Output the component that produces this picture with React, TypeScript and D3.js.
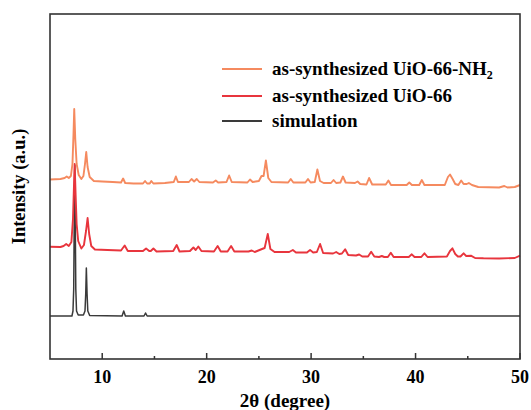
import React from "react";
import { scaleLinear, line } from "d3";

// 2theta (degree) vs intensity (a.u.), curves already stacked
const nh2Pattern: [number, number][] = [
  [5.0, 179.5], [6.0, 180], [6.4, 181], [6.6, 182.5], [6.8, 181], [7.0, 183],
  [7.15, 195], [7.25, 225], [7.32, 250], [7.42, 220], [7.55, 195], [7.75, 184],
  [8.0, 180], [8.2, 183], [8.35, 195], [8.47, 207], [8.6, 192], [8.8, 182],
  [9.2, 178], [10, 177.5], [11, 177], [11.8, 176.5], [12.0, 180.5], [12.2, 176],
  [13, 175.5], [13.9, 175.5], [14.1, 178], [14.3, 175.5], [14.55, 175.5], [14.7, 178],
  [14.9, 175.5], [16, 176], [16.85, 177], [17.05, 182.5], [17.25, 177], [18.3, 177],
  [18.55, 180], [18.8, 177.5], [19.05, 180], [19.3, 177], [20.6, 176.5], [20.87, 178.5],
  [21.1, 176.5], [21.9, 177], [22.15, 183.5], [22.4, 177], [23.9, 176.5], [24.15, 179.5],
  [24.4, 177], [25.0, 178], [25.25, 183], [25.45, 183], [25.67, 198.5], [25.9, 181],
  [26.2, 177], [27.8, 176.5], [28.05, 180], [28.3, 176.5], [29.45, 176.5], [29.7, 180],
  [29.95, 176.5], [30.35, 177], [30.6, 189.5], [30.85, 178], [31.2, 176], [31.9, 176],
  [32.15, 179], [32.4, 176], [32.8, 176.5], [33.05, 182.5], [33.3, 176.5], [34.2, 176],
  [34.45, 177.5], [34.7, 175], [35.3, 174.5], [35.55, 181], [35.85, 174.5], [36.6, 174.5],
  [37.15, 174.5], [37.4, 178.5], [37.65, 174], [39.15, 174], [39.4, 176.5], [39.65, 174],
  [40.35, 174], [40.6, 179], [40.85, 174], [42.8, 174], [43.1, 182], [43.3, 184.5],
  [43.55, 180], [43.8, 175], [44.1, 174], [44.37, 178.5], [44.6, 175], [44.9, 175],
  [45.1, 176], [45.4, 174], [46, 172], [48, 171.5], [48.5, 173], [48.8, 171.5],
  [49.5, 172], [50, 174],
];

const uio66Pattern: [number, number][] = [
  [5.0, 112.3], [6.0, 112], [6.3, 113], [6.55, 115], [6.8, 113], [7.05, 117],
  [7.2, 140], [7.3, 175], [7.36, 195], [7.45, 165], [7.55, 135], [7.7, 118],
  [8.0, 110.5], [8.25, 114], [8.45, 128], [8.6, 141], [8.75, 125], [8.95, 113],
  [9.3, 109.5], [10.5, 109], [11.8, 108.5], [12.15, 113.5], [12.45, 108], [13.9, 108],
  [14.2, 110.5], [14.5, 108], [14.65, 108], [14.9, 110.5], [15.2, 107.5], [16.8, 108],
  [17.13, 114], [17.4, 107.5], [18.4, 108], [18.73, 111.5], [18.95, 109], [19.2, 112.5],
  [19.5, 108], [20.7, 107.5], [21.05, 113], [21.35, 107.5], [22.0, 107.5], [22.34, 113],
  [22.65, 107.5], [24.0, 107.5], [24.32, 108.5], [24.6, 107], [25.3, 110], [25.55, 111],
  [25.85, 125], [26.1, 110], [26.5, 107], [27.9, 107], [28.25, 109], [28.55, 106.5],
  [29.6, 106.5], [29.9, 109], [30.2, 106.5], [30.55, 107], [30.86, 115], [31.15, 106],
  [32.1, 105.5], [32.4, 107], [32.7, 105], [32.95, 105.5], [33.26, 109.7], [33.55, 104],
  [34.3, 103.5], [34.6, 104.5], [34.9, 102.5], [35.45, 102.5], [35.75, 107.3], [36.05, 102.5],
  [36.5, 102], [36.77, 103], [37.0, 102], [37.35, 102], [37.63, 106.3], [37.9, 102],
  [39.35, 102], [39.64, 104.7], [39.9, 102], [40.55, 102], [40.85, 105.7], [41.15, 102],
  [43.0, 102.5], [43.3, 108], [43.53, 110.7], [43.8, 105], [44.05, 102.5], [44.3, 102.5],
  [44.6, 105.7], [44.85, 103], [45.3, 103.3], [45.7, 101], [46.5, 100.7], [48.0, 100.5],
  [49.5, 101], [50.0, 103.3],
];

const simPattern: [number, number][] = [
  [5, 43], [7.1, 43], [7.2, 48], [7.27, 70], [7.33, 150], [7.37, 194], [7.41, 150],
  [7.47, 70], [7.54, 48], [7.7, 44], [8.2, 44], [8.35, 48], [8.42, 65], [8.48, 91],
  [8.55, 65], [8.62, 48], [8.8, 43.5], [11.9, 43], [12.06, 48], [12.22, 43], [14.0, 43],
  [14.15, 46], [14.3, 43], [50, 43],
];

const legendNames = ["as-synthesized UiO-66-NH", "as-synthesized UiO-66", "simulation"];
const lineColors = ["#F58A5F", "#E8353D", "#3A3A3A"];
const xTickValues = [10, 20, 30, 40, 50];
const xMinorValues = [15, 25, 35, 45];

const W = 531;
const H = 410;
const margin = { top: 14, right: 11, bottom: 51, left: 50 };
const FONT = "Liberation Serif";

export default function App() {
  const xScale = scaleLinear().domain([5, 50]).range([margin.left, W - margin.right]);
  const yScale = scaleLinear().domain([0, 345]).range([H - margin.bottom, margin.top]);
  const myLine = line<[number, number]>()
    .x(d => xScale(d[0]))
    .y(d => yScale(d[1]));

  const patterns = [nh2Pattern, uio66Pattern, simPattern];
  const y0 = H - margin.bottom;
  const rowsY = [69, 96, 121];

  return (
    <svg width={W} height={H} style={{ position: "absolute", left: 0, top: 0, background: "#fff" }}>
      {/* bottom series first so orange ends on top */}
      {[2, 1, 0].map(i => (
        <path
          key={i}
          d={myLine(patterns[i]) || ""}
          fill="none"
          stroke={lineColors[i]}
          strokeWidth={i === 2 ? 1.5 : 1.9}
          strokeLinejoin="round"
        />
      ))}

      <rect
        x={margin.left}
        y={margin.top}
        width={W - margin.left - margin.right}
        height={H - margin.top - margin.bottom}
        fill="none"
        stroke="#333"
        strokeWidth={1.6}
      />

      {/* inward ticks */}
      {xTickValues.map(v => (
        <line key={"M" + v} x1={xScale(v)} x2={xScale(v)} y1={y0} y2={y0 - 6} stroke="#333" strokeWidth={1.5} />
      ))}
      {xMinorValues.map(v => (
        <line key={"m" + v} x1={xScale(v)} x2={xScale(v)} y1={y0} y2={y0 - 3} stroke="#333" strokeWidth={1.5} />
      ))}
      {xTickValues.map(v => (
        <text
          key={"t" + v}
          x={xScale(v)}
          y={y0 + 24}
          textAnchor="middle"
          fontFamily={FONT}
          fontWeight="bold"
          fontSize={18}
        >
          {v}
        </text>
      ))}

      <text
        x={(margin.left + W - margin.right) / 2}
        y={H - 3}
        textAnchor="middle"
        fontFamily={FONT}
        fontWeight="bold"
        fontSize={19}
      >
        2θ (degree)
      </text>
      <text
        transform={`translate(25,${(margin.top + y0) / 2}) rotate(-90)`}
        textAnchor="middle"
        fontFamily={FONT}
        fontWeight="bold"
        fontSize={18.5}
      >
        Intensity (a.u.)
      </text>

      {/* legend */}
      {legendNames.map((name, i) => (
        <g key={name}>
          <line x1={222} x2={262} y1={rowsY[i]} y2={rowsY[i]} stroke={lineColors[i]} strokeWidth={1.8} />
          <text x={272} y={rowsY[i] + 6} fontFamily={FONT} fontWeight="bold" fontSize={19}>
            {name}
            {i === 0 && (
              <tspan dy={4} fontSize={12}>
                2
              </tspan>
            )}
          </text>
        </g>
      ))}
    </svg>
  );
}
